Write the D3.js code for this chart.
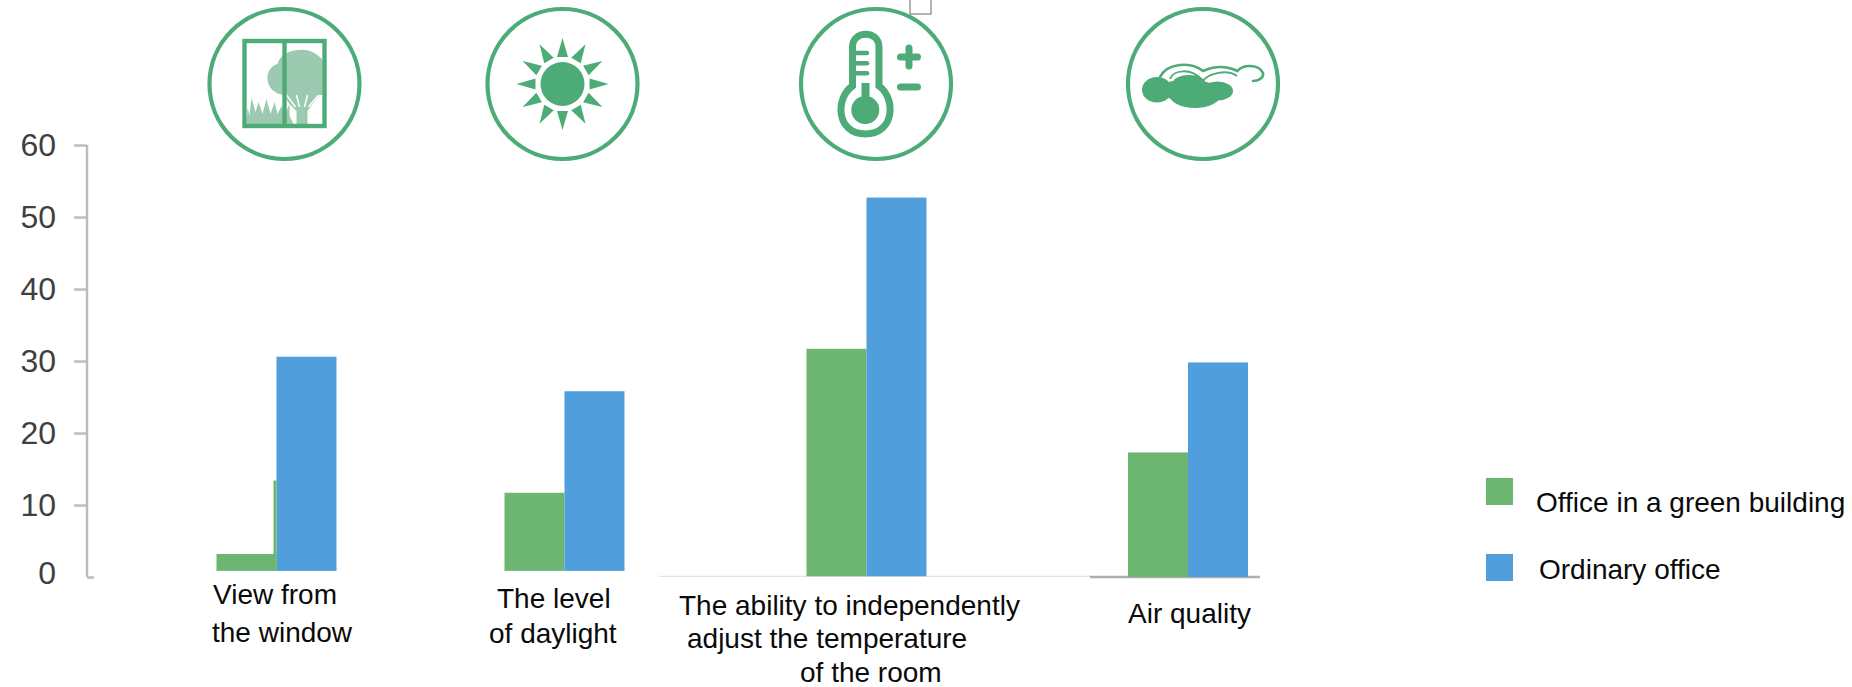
<!DOCTYPE html>
<html>
<head>
<meta charset="utf-8">
<script src="https://cdn.jsdelivr.net/npm/d3@7"></script>
<style>
html,body{margin:0;padding:0;background:#fff}
svg{display:block}
text{font-family:"Liberation Sans",Arial,sans-serif}
</style>
</head>
<body>
<svg id="chart" width="1852" height="687"></svg>
<script>
// Survey results: share of respondents per workplace factor
const categories = ["View from the window", "The level of daylight", "The ability to adjust", "Air quality"];
const seriesNames = ["Office in a green building", "Ordinary office"];
const greenValues = [3.2, 11.7, 31.7, 17.3];
const ordinaryValues = [30.6, 25.8, 52.7, 29.8];
const barFloors = [0.85, 0.85, 0.1, 0];
const yTicks = [0, 10, 20, 30, 40, 50, 60];

const GREEN = "#6db672", BLUE = "#509edb", ICON = "#4dab77", PALE = "#9bcab0", AXIS = "#b9bbbe";

const svg = d3.select("#chart");

const y = d3.scaleLinear().domain([0, 60]).range([577, 145]);
const groupX = d3.scaleOrdinal().domain(categories).range([276.5, 564.5, 866.5, 1188]);
const offset = d3.scaleBand().domain(seriesNames).range([-60, 60]);
const color = d3.scaleOrdinal().domain(seriesNames).range([GREEN, BLUE]);

// Value axis: the 0 tick runs past the spine
const axis = svg.append("g").attr("transform", "translate(87,0)")
  .call(d3.axisLeft(y).tickValues(yTicks).tickSize(13).tickPadding(18).tickFormat(d3.format("d")));
axis.selectAll("path,line").attr("stroke", AXIS).attr("stroke-width", 2.4);
axis.select(".domain").attr("d", `M0,${y(60)}V${y(0)}`);
axis.selectAll("text").attr("font-size", 32).attr("fill", "#3f3f3f")
  .style("font-family", '"Liberation Sans",Arial,sans-serif');
axis.selectAll(".tick").filter(d => d === 0).select("line").attr("x2", 7);
axis.selectAll(".tick").filter(d => d === 0).select("text").attr("y", -4);

// Baseline segments under the two right-hand groups
svg.append("line").attr("x1", 659).attr("x2", 1090).attr("y1", y(0.1)).attr("y2", y(0.1))
  .attr("stroke", "#e3e3e3").attr("stroke-width", 1.2);
svg.append("line").attr("x1", 1090).attr("x2", 1260).attr("y1", y(0)).attr("y2", y(0))
  .attr("stroke", "#aeaeae").attr("stroke-width", 2.4);

// Grouped bars
const rows = categories.flatMap((c, i) => [
  {c, s: seriesNames[0], v: greenValues[i], floor: barFloors[i]},
  {c, s: seriesNames[1], v: ordinaryValues[i], floor: barFloors[i]}
]);
svg.append("g").selectAll("rect").data(rows).join("rect")
  .attr("x", d => groupX(d.c) + offset(d.s))
  .attr("width", offset.bandwidth())
  .attr("y", d => y(d.v))
  .attr("height", d => y(d.floor) - y(d.v))
  .attr("fill", d => color(d.s));

// Narrow green sliver beside the first blue bar
const sliverTop = 13.4;
svg.append("rect").attr("x", groupX(categories[0]) - 3).attr("width", 3)
  .attr("y", y(sliverTop)).attr("height", y(barFloors[0]) - y(sliverTop)).attr("fill", GREEN);

// Category labels, placed line by line
const labelLines = [
  ["View from", 213, 604], ["the window", 212, 642],
  ["The level", 497, 608], ["of daylight", 489, 643],
  ["The ability to independently", 679, 615],
  ["adjust the temperature", 687, 648],
  ["of the room", 800, 682],
  ["Air quality", 1128, 623]
];
svg.append("g").selectAll("text").data(labelLines).join("text")
  .attr("x", d => d[1]).attr("y", d => d[2])
  .attr("font-size", 28).attr("fill", "#0a0a0a").text(d => d[0]);

// Legend
const legendY = d3.scaleOrdinal().domain(seriesNames).range([478, 554]);
const legendTextX = d3.scaleOrdinal().domain(seriesNames).range([1536, 1539]);
const legendTextY = d3.scaleOrdinal().domain(seriesNames).range([512, 579]);
const legend = svg.append("g");
legend.selectAll("rect").data(seriesNames).join("rect")
  .attr("x", 1486).attr("y", d => legendY(d)).attr("width", 27).attr("height", 27).attr("fill", d => color(d));
legend.selectAll("text").data(seriesNames).join("text")
  .attr("x", d => legendTextX(d)).attr("y", d => legendTextY(d))
  .attr("font-size", 28).attr("fill", "#0a0a0a").text(d => d);

// Small bracket at the top edge
svg.append("path").attr("d", "M910,0V14H931V0").attr("fill", "none").attr("stroke", "#9a9a9a").attr("stroke-width", 1.5);

// Pictograms above the groups
const iconRing = (cx, cy) => {
  const g = svg.append("g").attr("transform", `translate(${cx},${cy})`);
  g.append("circle").attr("r", 75).attr("fill", "#fff").attr("fill-opacity", 0).attr("stroke", ICON).attr("stroke-width", 4.2);
  return g;
};

// Window with tree and grass
const win = iconRing(284.5, 84);
win.append("path").attr("fill", PALE).attr("d",
  "M-17,-5C-18,-13 -12,-19 -7,-20C-5,-29 5,-34 15,-34C25,-35 33,-30 38,-24L38,11L35,11L28,20L23,27L23,40L12,40L12,27L5,20L-1,11C-10,10 -17,3 -17,-5Z");
win.append("path").attr("fill", "none").attr("stroke", "#fff").attr("stroke-width", 1.5)
  .attr("d", "M2,11L11,23M12,11L15,23M23,11L20,23M34,11L24,23");
win.append("path").attr("fill", PALE).attr("d",
  "M-38,40L-37,24L-35,31L-33,14L-29,28L-26,18L-22,30L-18,15L-14,30L-10,18L-7,30L-3,22L0,31L5,20L5,32L9,40Z");
win.append("rect").attr("x", -40).attr("y", -43).attr("width", 80).attr("height", 85)
  .attr("fill", "none").attr("stroke", ICON).attr("stroke-width", 4.4);
win.append("line").attr("x1", 0).attr("x2", 0).attr("y1", -43).attr("y2", 42).attr("stroke", ICON).attr("stroke-width", 4.4);

// Sun with twelve rays
const sun = iconRing(562.5, 84);
sun.append("circle").attr("r", 22).attr("fill", ICON);
sun.selectAll("path.ray").data(d3.range(12)).join("path").attr("class", "ray")
  .attr("fill", ICON).attr("d", "M-5.5,-27L5.5,-27L0,-46Z")
  .attr("transform", d => `rotate(${d * 30})`);

// Thermometer with plus and minus
const temp = iconRing(876, 84);
temp.append("path").attr("fill", "none").attr("stroke", ICON).attr("stroke-width", 7)
  .attr("d", "M-23.5,2V-37C-23.5,-54 3,-54 3,-37V2C20,14 19,50 -10.7,50C-40,50 -41,14 -23.5,2Z");
temp.append("circle").attr("cx", -10.7).attr("cy", 26).attr("r", 14).attr("fill", ICON);
temp.append("rect").attr("x", -14.5).attr("y", -1).attr("width", 8).attr("height", 20).attr("fill", ICON);
temp.selectAll("line.mark").data([-31, -20.7, -10.7]).join("line").attr("class", "mark")
  .attr("x1", -22).attr("x2", -9).attr("y1", d => d).attr("y2", d => d)
  .attr("stroke", ICON).attr("stroke-width", 4.5).attr("stroke-linecap", "round");
temp.append("path").attr("fill", "none").attr("stroke", ICON).attr("stroke-width", 7).attr("stroke-linecap", "round")
  .attr("d", "M24.5,-27H41.5M33,-36V-18M24.5,3H41.5");

// Clouds: solid puffs under a looping outline
const cloud = iconRing(1203, 84);
const puffs = [[-46, 5.7, 15, 12.7], [-8, 10.3, 26, 13.8], [-14, -1, 16, 8], [14.5, 7, 15.5, 9.5], [-30, 6, 10, 9]];
cloud.selectAll("ellipse").data(puffs).join("ellipse")
  .attr("cx", d => d[0]).attr("cy", d => d[1]).attr("rx", d => d[2]).attr("ry", d => d[3]).attr("fill", ICON);
cloud.append("path").attr("fill", "none").attr("stroke", ICON).attr("stroke-width", 2.6).attr("stroke-linecap", "round")
  .attr("d", "M-43,-7C-36,-21 -12,-23 0,-13C13,-19 24,-18 34.5,-13C40,-20 56,-20 60,-11C61,-6 55,-3 50,-3");
cloud.append("path").attr("fill", "none").attr("stroke", ICON).attr("stroke-width", 2)
  .attr("d", "M-33,-5C-30,-14 -12,-17 0,-3C6,-11 24,-15 34,-8");
</script>
</body>
</html>
